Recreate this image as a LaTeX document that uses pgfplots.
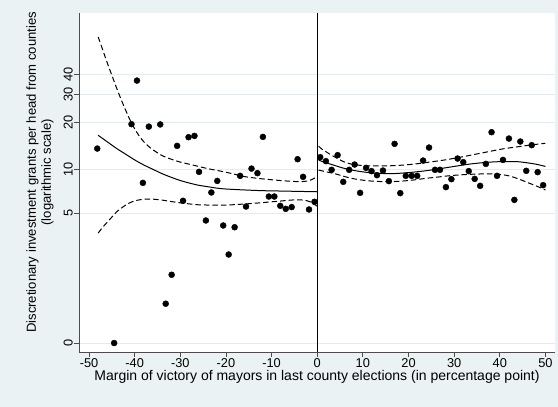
\documentclass[border=0pt]{standalone}
\usepackage{fontspec}
\setmainfont{Liberation Sans}
\usepackage{pgfplots}
\pgfplotsset{compat=1.18}
\definecolor{statabg}{RGB}{234,242,243}
\definecolor{gridc}{RGB}{226,235,238}

% y values are ln(1 + grant)
\pgfplotstableread{
x y
-48.2 2.687
-44.5 0.000
-40.7 3.024
-39.5 3.626
-38.2 2.213
-36.9 2.990
-34.4 3.020
-33.2 0.543
-31.9 0.943
-30.7 2.724
-29.4 1.965
-28.2 2.844
-26.9 2.862
-25.9 2.365
-24.4 1.693
-23.2 2.080
-21.9 2.240
-20.6 1.624
-19.4 1.223
-18.1 1.600
-16.9 2.310
-15.6 1.886
-14.4 2.410
-13.1 2.347
-11.9 2.848
-10.6 2.024
-9.4 2.024
-8.1 1.896
-6.9 1.854
-5.6 1.878
-4.3 2.540
-3.1 2.296
-1.8 1.845
-0.6 1.951
0.66 2.568
1.9 2.513
3.15 2.393
4.47 2.596
5.7 2.227
7.0 2.393
8.2 2.466
9.4 2.075
10.7 2.420
11.9 2.375
13.1 2.319
14.4 2.383
15.7 2.237
16.95 2.752
18.2 2.071
19.4 2.310
20.7 2.310
21.9 2.310
23.2 2.521
24.5 2.701
25.8 2.393
26.9 2.393
28.2 2.154
29.4 2.264
30.75 2.549
32.0 2.499
33.2 2.375
34.5 2.268
35.7 2.172
36.95 2.475
38.2 2.913
39.4 2.310
40.7 2.530
42.0 2.825
43.2 1.978
44.5 2.784
45.8 2.379
47.0 2.734
48.3 2.361
49.5 2.181
}\bins

\begin{document}
\begin{tikzpicture}[x=1pt,y=1pt]
\fill[statabg] (0,0) rectangle (558,407);
\begin{axis}[
  at={(79pt,55pt)}, anchor=south west, scale only axis,
  width=476pt, height=339pt,
  xmin=-52.2, xmax=52.1, ymin=-0.124, ymax=4.56,
  axis x line*=bottom, axis y line*=left,
  axis line style={-, black!70, line width=0.8pt},
  axis background/.style={fill=white},
  tick align=outside, major tick length=5pt,
  tick style={black!70, line width=0.8pt},
  xtick={-50,-40,...,50},
  ytick={0,1.7918,2.3979,3.0445,3.4340,3.7136},
  yticklabels={0,5,10,20,30,40},
  ymajorgrids, grid style={gridc, line width=0.9pt},
  ticklabel style={font=\fontsize{12.8}{14}\selectfont},
  /pgf/number format/assume math mode=true,
  yticklabel style={rotate=90, anchor=south, inner sep=1pt},
  xticklabel style={inner sep=1pt},
  xlabel={Margin of victory of mayors in last county elections (in percentage point)},
  xlabel style={font=\fontsize{14}{16}\selectfont, at={(axis description cs:0.5,-0.074)}, anchor=center},
  ylabel={Discretionary investment grants per head from counties\\(logarithmic scale)},
  ylabel style={font=\fontsize{13.1}{15}\selectfont, align=center, at={(axis description cs:-0.082,0.53)}, anchor=center},
  clip=false,
]
\addplot[black, line width=1pt] coordinates {(0,-0.124) (0,4.56)};

\addplot[only marks, mark=*, mark size=3pt, black] table[x=x, y=y] {\bins};

% left fit and confidence band
\addplot[black, line width=1pt, smooth] coordinates {
(-48,2.87) (-46,2.78) (-44,2.69) (-42,2.61) (-40,2.53) (-38,2.46) (-36,2.40)
(-34,2.34) (-32,2.29) (-30,2.245) (-28,2.21) (-26,2.18) (-24,2.16) (-22,2.14)
(-20,2.128) (-16,2.115) (-12,2.105) (-8,2.10) (-4,2.095) (0,2.09)};
\addplot[black, line width=1pt, dash pattern=on 5.5pt off 3pt, smooth] coordinates {
(-48,4.23) (-47,4.05) (-46,3.87) (-45,3.70) (-44,3.53) (-43,3.37) (-42,3.22)
(-41,3.08) (-40,2.96) (-39,2.86) (-38,2.78) (-37,2.72) (-36,2.67) (-34,2.59)
(-32,2.54) (-30,2.50) (-28,2.47) (-26,2.44) (-24,2.41) (-22,2.385) (-20,2.36)
(-18,2.33) (-16,2.30) (-12,2.268) (-8,2.245) (-5,2.232) (-3,2.232) (-1.5,2.25) (0,2.30)};
\addplot[black, line width=1pt, dash pattern=on 5.5pt off 3pt, smooth] coordinates {
(-48,1.52) (-47,1.60) (-46,1.67) (-45,1.74) (-44,1.81) (-43,1.86) (-42,1.905)
(-41,1.94) (-40,1.963) (-39,1.978) (-38,1.986) (-37,1.989) (-36,1.988) (-34,1.975)
(-32,1.955) (-30,1.937) (-28,1.922) (-26,1.91) (-22,1.905) (-19,1.909) (-15,1.925)
(-12,1.94) (-8,1.962) (-5,1.978) (-3,1.975) (-1.5,1.95) (0,1.89)};

% right fit and confidence band
\addplot[black, line width=1pt, smooth] coordinates {
(0.3,2.53) (1,2.51) (2,2.49) (3,2.47) (4,2.45) (5,2.43) (6,2.412) (8,2.385)
(10,2.365) (12,2.35) (14,2.343) (16,2.34) (18,2.345) (20,2.355) (22,2.367)
(24,2.382) (26,2.40) (28,2.42) (30,2.44) (32,2.46) (34,2.477) (36,2.49) (38,2.50)
(40,2.506) (42,2.508) (44,2.505) (46,2.49) (48,2.47) (50,2.44)};
\addplot[black, line width=1pt, dash pattern=on 5.5pt off 3pt, smooth] coordinates {
(0.3,2.72) (1,2.68) (2,2.64) (3,2.60) (4,2.565) (5,2.53) (6,2.50) (7,2.48)
(8,2.465) (10,2.452) (12,2.447) (14,2.447) (16,2.449) (18,2.455) (20,2.465)
(22,2.478) (24,2.495) (26,2.512) (28,2.53) (30,2.552) (32,2.575) (34,2.60)
(36,2.625) (38,2.65) (40,2.675) (42,2.695) (44,2.712) (46,2.73) (48,2.745) (50,2.76)};
\addplot[black, line width=1pt, dash pattern=on 5.5pt off 3pt, smooth] coordinates {
(0.3,2.39) (2,2.365) (4,2.337) (6,2.30) (8,2.27) (10,2.25) (12,2.237) (14,2.231)
(16,2.23) (18,2.235) (20,2.245) (22,2.26) (24,2.277) (26,2.29) (28,2.305)
(30,2.317) (32,2.326) (34,2.332) (36,2.336) (38,2.336) (40,2.33) (42,2.31)
(44,2.27) (46,2.22) (48,2.17) (50,2.115)};
\end{axis}
\pgfresetboundingbox
\useasboundingbox (0,0) rectangle (558,407);
\end{tikzpicture}
\end{document}
